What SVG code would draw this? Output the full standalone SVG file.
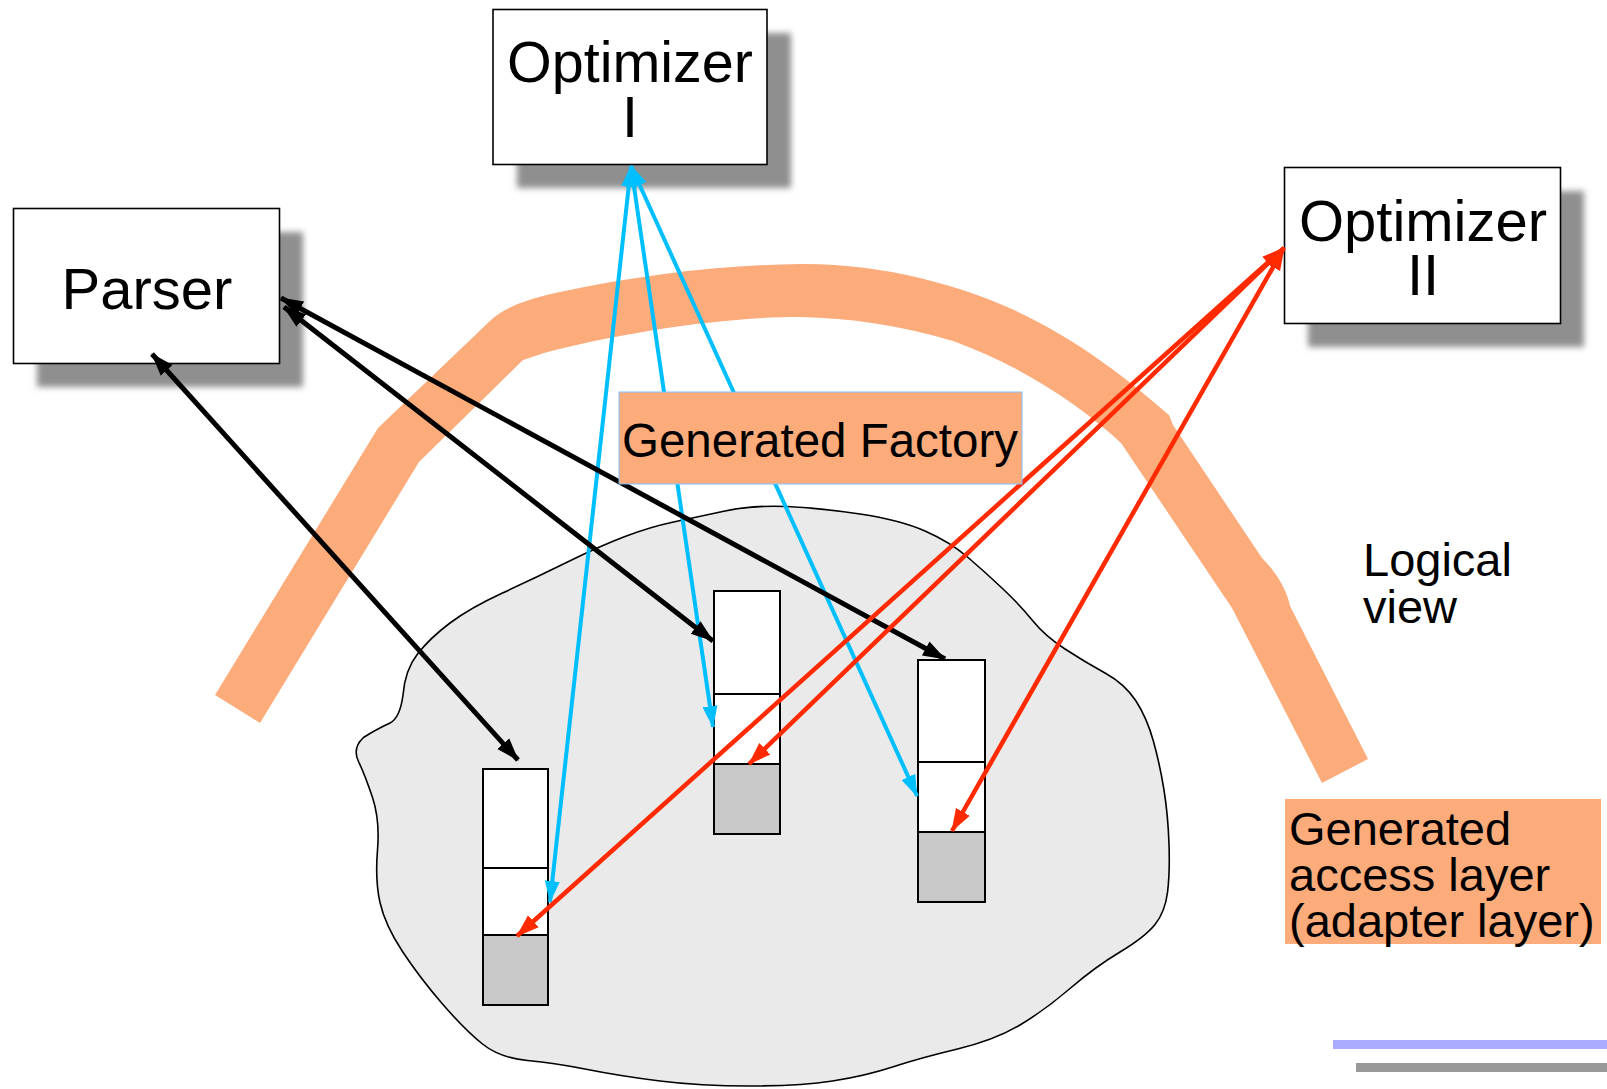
<svg xmlns="http://www.w3.org/2000/svg" width="1607" height="1089" viewBox="0 0 1607 1089">
<style>
.box{fill:#fff;stroke:#000;stroke-width:1.6}
.shadow{fill:#8f8f8f;filter:url(#blur)}
.lbl{font-family:"Liberation Sans",Arial,sans-serif;fill:#000}
.cell{fill:#fff;stroke:#000;stroke-width:2}
.cellg{fill:#c8c8c8;stroke:#000;stroke-width:2}
.blk{stroke:#000;stroke-width:5;fill:none;marker-start:url(#ak);marker-end:url(#ak)}
.blu{stroke:#00bfff;stroke-width:4;fill:none;marker-start:url(#ab);marker-end:url(#ab)}
.red{stroke:#ff2a00;stroke-width:4.5;fill:none;marker-start:url(#ar);marker-end:url(#ar)}
.salmon{fill:#fcab7b}
</style>
<defs>
<filter id="blur" x="-20%" y="-20%" width="140%" height="140%"><feGaussianBlur stdDeviation="3"/></filter>
<marker id="ak" markerUnits="userSpaceOnUse" viewBox="0 0 24 18" markerWidth="24" markerHeight="18" refX="22" refY="9" orient="auto-start-reverse"><path d="M0,1 L23,9 L0,17 z" fill="#000"/></marker>
<marker id="ab" markerUnits="userSpaceOnUse" viewBox="0 0 24 18" markerWidth="24" markerHeight="18" refX="21" refY="9" orient="auto-start-reverse"><path d="M0,1.5 L22,9 L0,16.5 z" fill="#00bfff"/></marker>
<marker id="ar" markerUnits="userSpaceOnUse" viewBox="0 0 24 18" markerWidth="24" markerHeight="18" refX="22" refY="9" orient="auto-start-reverse"><path d="M0,1 L23,9 L0,17 z" fill="#ff2a00"/></marker>
</defs>
<rect width="1607" height="1089" fill="#fff"/>

<g id="optimizer1">
<rect class="shadow" x="517" y="33" width="274" height="155"/>
<rect class="box" x="493" y="9.5" width="274" height="155"/>
<text class="lbl" font-size="57.5" text-anchor="middle" x="630" y="82">Optimizer</text>
<text class="lbl" font-size="57.5" text-anchor="middle" x="630" y="137">I</text>
</g>

<g id="parser">
<rect class="shadow" x="37" y="232" width="266" height="155"/>
<rect class="box" x="13.5" y="208.5" width="266" height="155"/>
<text class="lbl" font-size="58" text-anchor="middle" x="147" y="309">Parser</text>
</g>

<g id="optimizer2">
<rect class="shadow" x="1308" y="191" width="276" height="156"/>
<rect class="box" x="1284.5" y="167.5" width="276" height="156"/>
<text class="lbl" font-size="58" text-anchor="middle" x="1423" y="241">Optimizer</text>
<text class="lbl" font-size="58" text-anchor="middle" x="1423" y="295">II</text>
</g>

<g id="database">
<path fill="#eaeaea" stroke="#000" stroke-width="1.6" d="M673.5,522 Q697,517 725,511 Q753,505 786.5,506.5 Q820,508 860,514 Q900,520 925,531 Q950,542 967.5,557 Q985,572 1002.5,588.5 Q1020,605 1032.5,620.5 Q1045,636 1065,649 Q1085,662 1105,673 Q1125,684 1136,701 Q1147,718 1153.5,741.5 Q1160,765 1164,790 Q1168,815 1169,844 Q1170,873 1167.5,892.5 Q1165,912 1155,924.5 Q1145,937 1120,952 Q1095,967 1070,988.5 Q1045,1010 1020,1025 Q995,1040 957.5,1049 Q920,1058 892.5,1067 Q865,1076 832.5,1081 Q800,1086 750,1086 Q700,1086 660,1081 Q620,1076 587.5,1069.5 Q555,1063 527.5,1060.5 Q500,1058 482.5,1044 Q465,1030 442.5,1004 Q420,978 402.5,951.5 Q385,925 380,902.5 Q375,880 377.5,850 Q380,820 372.5,797.5 Q365,775 358.5,761.5 Q352,748 363.5,737.5 Q375,730 390,723 Q400,718 403,695 Q405,670 417.5,654 Q430,638 450,623 Q470,608 502.5,593 Q535,578 567.5,562 Q600,546 625,536.5 Q650,527 673.5,522 Z"/>
</g>

<g id="stack1">
<rect class="cell" x="483" y="769" width="65" height="99"/>
<rect class="cell" x="483" y="868" width="65" height="67"/>
<rect class="cellg" x="483" y="935" width="65" height="70"/>
</g>
<g id="stack2">
<rect class="cell" x="714" y="591" width="66" height="103"/>
<rect class="cell" x="714" y="694" width="66" height="70"/>
<rect class="cellg" x="714" y="764" width="66" height="70"/>
</g>
<g id="stack3">
<rect class="cell" x="918" y="660" width="67" height="102"/>
<rect class="cell" x="918" y="762" width="67" height="70"/>
<rect class="cellg" x="918" y="832" width="67" height="70"/>
</g>

<g id="logical-boundary">
<path class="salmon" d="M215,695 L378,428 L491,320 Q510,302 560,292 C640,275 720,265 800,264 C880,263 960,285 1014,310 C1070,336 1120,372 1169,415 L1173,425 L1262,558 C1276,572 1287,590 1290,606 L1368,759 L1322,783 L1232,608 L1121,443 C1080,405 1020,365 953,341 C900,325 850,318 800,317 C720,317 620,333 544,353 L523,360 L419,462 L260,723 Z"/>
</g>

<g id="connectors">
<line class="blu" x1="631" y1="166" x2="550" y2="902"/>
<line class="blu" x1="631" y1="166" x2="713" y2="727"/>
<line class="blu" x1="631" y1="166" x2="917" y2="796"/>
<line class="blk" x1="152" y1="354" x2="518" y2="760"/>
<line class="blk" x1="284" y1="307" x2="713" y2="641"/>
<line class="blk" x1="281" y1="298" x2="945" y2="659"/>
<line class="red" x1="1284" y1="248" x2="517" y2="936"/>
<line class="red" x1="1284" y1="248" x2="749" y2="764"/>
<line class="red" x1="1284" y1="248" x2="952" y2="831"/>
</g>

<g id="generated-factory">
<rect class="salmon" x="619" y="392" width="403" height="92" stroke="#80c0ff" stroke-width="1"/>
<text class="lbl" font-size="47.5" x="622" y="457">Generated Factory</text>
</g>

<g id="access-layer">
<rect class="salmon" x="1285" y="799" width="316" height="145"/>
<text class="lbl" font-size="47" x="1289" y="845">Generated</text>
<text class="lbl" font-size="47" x="1289" y="891">access layer</text>
<text class="lbl" font-size="47" x="1289" y="937">(adapter layer)</text>
</g>

<g id="logical-view">
<text class="lbl" font-size="47" x="1363" y="576">Logical</text>
<text class="lbl" font-size="47" x="1363" y="623">view</text>
</g>

<g id="footer">
<rect x="1333" y="1040" width="274" height="9" fill="#aaaaff"/>
<rect x="1356" y="1063" width="251" height="9" fill="#999999"/>
</g>
</svg>
